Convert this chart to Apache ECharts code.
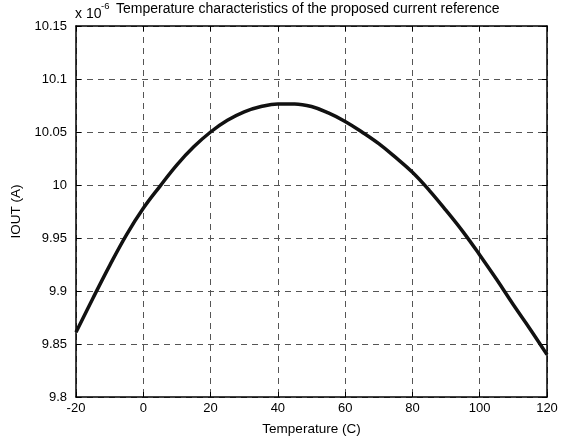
<!DOCTYPE html>
<html><head><meta charset="utf-8">
<script src="https://cdn.jsdelivr.net/npm/echarts@6/dist/echarts.min.js"></script>
<style>html,body{margin:0;padding:0;background:#fff}#c{width:573px;height:441px}</style>
</head><body><div id="c"></div>
<script>
const temps = [-20,-15,-10,-5,0,5,10,15,20,25,30,35,40,45,50,55,60,65,70,75,80,85,90,95,100,105,110,115,120];
const iout = [9.861,9.893,9.924,9.953,9.978,9.999,10.019,10.036,10.050,10.061,10.069,10.074,10.0765,10.0765,10.074,10.068,10.060,10.050,10.039,10.026,10.012,9.995,9.976,9.956,9.934,9.911,9.887,9.864,9.840];
const xTicks = [-20,0,20,40,60,80,100,120];
const yTicks = ['9.8','9.85','9.9','9.95','10','10.05','10.1','10.15'];
const titleText = 'Temperature characteristics of the proposed current reference';
const scaleText = 'x 10';
const scaleExp = '-6';
const xName = 'Temperature (C)';
const yName = 'IOUT (A)';

const font = 'Liberation Sans, Arial, sans-serif';
const chart = echarts.init(document.getElementById('c'));
const gridStyle = {show:true, lineStyle:{color:'#555', type:[6,5], width:1}};
chart.setOption({
  animation:false,
  grid:{left:76, right:26, top:26, bottom:42},
  graphic:[
    {type:'text', left:75, top:7, style:{text:scaleText, fontSize:14, fontFamily:font, fill:'#000'}},
    {type:'text', left:101, top:1, style:{text:scaleExp, fontSize:9.5, fontFamily:font, fill:'#000'}},
    {type:'text', left:116, top:2, style:{text:titleText, fontSize:14, fontFamily:font, fill:'#000'}}
  ],
  xAxis:[{
    type:'value', min:-20, max:120, interval:20,
    name:xName, nameLocation:'middle', nameGap:25,
    nameTextStyle:{fontSize:13.5, fontFamily:font, color:'#000'},
    axisLine:{show:true, onZero:false, lineStyle:{color:'#000', width:1.5}},
    axisTick:{show:true, inside:true, length:5, lineStyle:{color:'#000'}},
    axisLabel:{fontSize:13, fontFamily:font, color:'#000', margin:5, formatter:v=>String(v)},
    splitLine:gridStyle
  },{
    type:'value', min:-20, max:120, interval:20, position:'top',
    axisLine:{show:true, onZero:false, lineStyle:{color:'#000', width:1.5}},
    axisTick:{show:true, inside:true, length:5, lineStyle:{color:'#000'}},
    axisLabel:{show:false}, splitLine:{show:false}
  }],
  yAxis:[{
    type:'value', min:9.8, max:10.15, interval:0.05,
    name:yName, nameLocation:'middle', nameGap:47,
    nameTextStyle:{fontSize:13.5, fontFamily:font, color:'#000'},
    axisLine:{show:true, onZero:false, lineStyle:{color:'#000', width:1.5}},
    axisTick:{show:true, inside:true, length:5, lineStyle:{color:'#000'}},
    axisLabel:{fontSize:13, fontFamily:font, color:'#000', margin:9,
      formatter:(v)=>{const i=Math.round((v-9.8)/0.05); return yTicks[i]!==undefined?yTicks[i]:'';}},
    splitLine:gridStyle
  },{
    type:'value', min:9.8, max:10.15, interval:0.05, position:'right',
    axisLine:{show:true, onZero:false, lineStyle:{color:'#000', width:1.5}},
    axisTick:{show:true, inside:true, length:5, lineStyle:{color:'#000'}},
    axisLabel:{show:false}, splitLine:{show:false}
  }],
  series:[{
    type:'line', xAxisIndex:0, yAxisIndex:0, smooth:0.4, symbol:'none',
    data:temps.map((t,i)=>[t,iout[i]]),
    lineStyle:{color:'#111', width:3.5}
  }]
});
</script></body></html>
